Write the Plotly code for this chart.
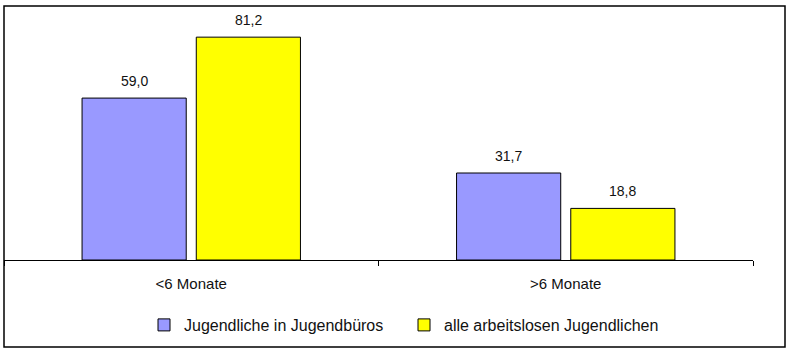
import plotly.graph_objects as go

categories = ["<6 Monate", ">6 Monate"]
series_names = ["Jugendliche in Jugendbüros", "alle arbeitslosen Jugendlichen"]
values_buero = [59.0, 31.7]
values_alle = [81.2, 18.8]
colors = ["#9999FF", "#FFFF00"]

FONT = "Liberation Sans, Arial, sans-serif"

fig = go.Figure()
for name, vals, col in zip(series_names, [values_buero, values_alle], colors):
    fig.add_trace(go.Bar(
        x=categories, y=vals, name=name,
        marker=dict(color=col, line=dict(color="black", width=1)),
    ))

# data labels
offsets = [-57, 57]
for vals, off in zip([values_buero, values_alle], offsets):
    for c, v in zip(categories, vals):
        fig.add_annotation(
            x=c, y=v, text=f"{v:.1f}".replace(".", ","),
            showarrow=False, xshift=off, yshift=17, yanchor="middle",
            font=dict(family=FONT, size=14, color="#111111"),
        )

# outer frame
fig.add_shape(type="rect", xref="paper", yref="paper",
              x0=0, x1=(785 - 4) / 749, y0=(260 - 347) / 247, y1=(260 - 6) / 247,
              line=dict(color="black", width=1.5), fillcolor="rgba(0,0,0,0)")

fig.update_layout(
    width=790, height=352,
    margin=dict(l=4, r=37, t=13, b=92),
    paper_bgcolor="white", plot_bgcolor="white",
    barmode="group", bargap=0.39, bargroupgap=0.088,
    separators=",.",
    font=dict(family=FONT, size=14, color="#111111"),
    showlegend=True,
    legend=dict(orientation="h", x=(144 - 4) / 749, xanchor="left",
                y=(260 - 325) / 247, yanchor="middle",
                entrywidth=215, entrywidthmode="pixels",
                font=dict(family=FONT, size=16, color="#111111"),
                bgcolor="rgba(0,0,0,0)"),
    xaxis=dict(showline=True, linecolor="black", linewidth=1,
               ticks="outside", tickson="boundaries", ticklen=5,
               tickcolor="black", showgrid=False, ticklabelstandoff=10,
               tickfont=dict(family=FONT, size=15, color="#111111")),
    yaxis=dict(range=[0, 90], visible=False, showgrid=False, zeroline=False),
)

fig.write_html("out.html")
